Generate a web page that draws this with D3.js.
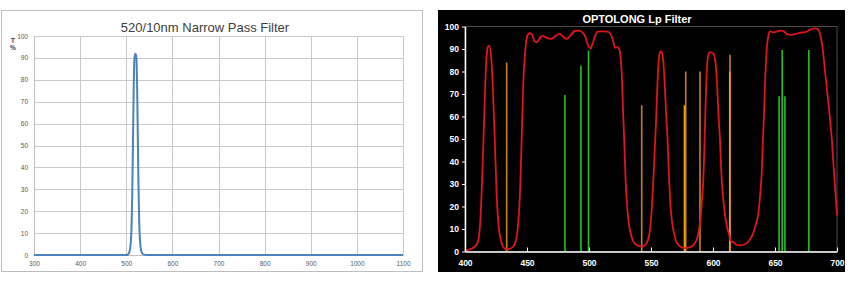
<!DOCTYPE html>
<html>
<head>
<meta charset="utf-8">
<script src="https://cdn.jsdelivr.net/npm/d3@7"></script>
<style>
  html, body { margin: 0; padding: 0; background: #ffffff; }
  svg { display: block; }
</style>
</head>
<body>
<svg id="chart" width="853" height="288"></svg>
<script>
// ---------- Left chart data: 520/10nm Narrow Pass Filter ----------
const leftTitle = "520/10nm Narrow Pass Filter";
const leftXTicks = [300, 400, 500, 600, 700, 800, 900, 1000, 1100];
const leftYTicks = [0, 10, 20, 30, 40, 50, 60, 70, 80, 90, 100];
const leftWavelength = [300, 500, 504, 507, 509.5, 511.5, 513, 514.5, 516, 517.5, 519, 520.5, 522, 523.5, 525, 526.5, 528, 530, 533, 537, 545, 1100];
const leftTransmission = [0, 0, 0.3, 1.5, 5, 13, 28, 50, 74, 89, 91.8, 91.8, 90, 78, 55, 32, 16, 6, 1.5, 0.3, 0, 0];

// ---------- Right chart data: OPTOLONG Lp Filter ----------
const rightTitle = "OPTOLONG Lp Filter";
const rightXTicks = [400, 450, 500, 550, 600, 650, 700];
const rightYTicks = [0, 10, 20, 30, 40, 50, 60, 70, 80, 90, 100];
const lpWavelength = [400,404,408,410.5,412.5,414,415.5,417,418.5,419.5,421,422.5,424,425.5,427,428.5,430,431.5,433.5,436,439,441.5,443,444.5,445.7,447,448.4,450,452,454,456,458,460.5,463,466,469.5,473,476.5,479,482,485,488.5,492,494.5,497,499,501,503,505,507,511,515,517.5,519.5,521,523,524.5,525.5,526.5,527.5,528.5,529.5,530.5,532,533,535,537,540,542.5,545,546.5,548,549.2,550.5,551.9,553,554,555,556,557,558,559,560,561,562.3,563.5,564.5,565.5,567,568,570,572,575,577.5,580,582.8,585,586.8,588.3,589.5,591,592.2,593,594,595,596.2,597.6,600.3,601.5,602.4,603.5,604.5,605.6,606.5,607.5,608.5,610,611.5,613,614,614.5,616.4,619,621.8,624.5,627.2,630,632.5,634.5,636.6,638,639.3,640.3,641.2,642,643,644.5,646,648,650,653,655.4,657.5,660,663,666,670.2,674,676,678,680,682.3,684,685.5,687,688.5,690,691.5,693.1,694.5,695.8,697,698.5,700];
const lpTransmission = [0.3,1,2.2,4.5,15,35,60,83,91,91.5,87,72,50,25,12,6,3,1.5,1,1.2,2.2,6,13,28,50,75,88,95.5,97,96.5,93.5,93,95,95.8,95,94.5,95.8,96.8,95.5,94.5,96,98,98.2,97.5,95.5,92,90.2,92.5,96,97.7,97.8,97.7,96.5,93.5,90.5,90.8,89.8,86,78,62,48,32,22,13,9.5,5.5,3.5,2.5,2.2,2.8,3.8,6,9.6,18,32,45,57,72,83,88,89,88,84,75,60,48,33,22,13,9.6,5,3,1.8,1.5,1.7,2.2,3.5,5.2,8.5,12.6,22,32,45,65,80,87.5,88.6,88,86,82,72,60,50,38,28,22,15,10.5,7.5,5,4.6,4.2,3,2.7,3,3.7,5.5,8.2,12,17,25,35,50,62,75,87,95.5,97.8,97.5,97.5,98,98.2,97.7,96.5,96.3,96.6,97.2,97.5,97.8,98.5,99,99.2,99,98,95,90,82,74,66,58,50,40,28,16];

// Emission lines: wavelength, height (%), and kind
const lineWavelength = [433.6, 480.6, 493.5, 499.6, 542.5, 578, 577, 589.5, 613.7, 613.5, 653.3, 655.8, 658, 677.3];
const lineHeight     = [84,    69.6,  82.7,  89.3,  65,    80,  65,  80,    87.5,  80,    69,    89.6,  69,  89.6];
const lineKind       = ["orange","green","green","green","orange","orange","amber","orange","orange","amber","green","green","green","green"];

const svg = d3.select("#chart");

// ================= LEFT CHART =================
(function () {
  const g = svg.append("g");
  g.append("rect").attr("x", 1.5).attr("y", 10.5).attr("width", 421).attr("height", 261)
    .attr("fill", "#ffffff").attr("stroke", "#bfbfbf").attr("stroke-width", 1);

  const x = d3.scaleLinear().domain([300, 1100]).range([34, 403]);
  const y = d3.scaleLinear().domain([0, 100]).range([255, 36]);

  g.append("g").selectAll("line.v").data(leftXTicks).join("line")
    .attr("x1", d => Math.round(x(d)) + 0.5).attr("x2", d => Math.round(x(d)) + 0.5)
    .attr("y1", y(100)).attr("y2", y(0))
    .attr("stroke", "#c9c9c9").attr("stroke-width", 1);
  g.append("g").selectAll("line.h").data(leftYTicks).join("line")
    .attr("x1", x(300)).attr("x2", x(1100))
    .attr("y1", d => Math.round(y(d)) + 0.5).attr("y2", d => Math.round(y(d)) + 0.5)
    .attr("stroke", "#c9c9c9").attr("stroke-width", 1);

  const xAxis = d3.axisBottom(x).tickValues(leftXTicks).tickFormat(d3.format("d")).tickSize(0).tickPadding(6);
  const xg = g.append("g").attr("transform", `translate(0,${y(0)})`).call(xAxis);
  xg.select(".domain").attr("stroke", "#bfbfbf");
  xg.selectAll("text").attr("font-family", "Arial, Liberation Sans, sans-serif")
    .attr("font-size", 6.5).attr("fill", "#595959");

  const yAxis = d3.axisLeft(y).tickValues(leftYTicks).tickFormat(d3.format("d")).tickSize(0).tickPadding(6);
  const yg = g.append("g").attr("transform", `translate(${x(300)},0)`).call(yAxis);
  yg.select(".domain").attr("stroke", "#bfbfbf");
  yg.selectAll("text").attr("font-family", "Arial, Liberation Sans, sans-serif")
    .attr("font-size", 6.5).attr("fill", "#595959");

  g.append("text").attr("x", 13).attr("y", 43).attr("text-anchor", "middle")
    .attr("font-family", "Arial, Liberation Sans, sans-serif").attr("font-size", 7).attr("font-weight", "bold")
    .attr("fill", "#404040").text("T");
  g.append("text").attr("x", 13).attr("y", 50).attr("text-anchor", "middle")
    .attr("font-family", "Arial, Liberation Sans, sans-serif").attr("font-size", 6.5).attr("font-weight", "bold")
    .attr("fill", "#404040").text("%");

  g.append("text").attr("x", 205).attr("y", 32).attr("text-anchor", "middle")
    .attr("font-family", "Arial, Liberation Sans, sans-serif").attr("font-size", 13)
    .attr("fill", "#404040").text(leftTitle);

  const pts = leftWavelength.map((w, i) => [w, leftTransmission[i]]);
  const line = d3.line().x(d => x(d[0])).y(d => y(d[1])).curve(d3.curveMonotoneX);
  g.append("path").datum(pts).attr("d", line)
    .attr("fill", "none").attr("stroke", "#4f81bd").attr("stroke-width", 2);
})();

// ================= RIGHT CHART =================
(function () {
  const g = svg.append("g");
  g.append("rect").attr("x", 438).attr("y", 10).attr("width", 407).attr("height", 262).attr("fill", "#000000");

  const x = d3.scaleLinear().domain([400, 700]).range([465, 837]);
  const y = d3.scaleLinear().domain([0, 100]).range([251.5, 26.5]);

  g.append("rect").attr("x", x(400)).attr("y", y(100)).attr("width", x(700) - x(400)).attr("height", y(0) - y(100))
    .attr("fill", "none").attr("stroke", "#4a4a4a").attr("stroke-width", 1);

  g.append("text").attr("x", 637).attr("y", 23).attr("text-anchor", "middle")
    .attr("font-family", "Arial, Liberation Sans, sans-serif").attr("font-size", 11).attr("font-weight", "bold")
    .attr("fill", "#ffffff").text(rightTitle);

  const colorOf = { orange: "#c8801c", amber: "#f2a400", green: "#22c322" };
  g.append("g").selectAll("line").data(lineWavelength.map((w, i) => ({ w, h: lineHeight[i], k: lineKind[i] })))
    .join("line")
    .attr("x1", d => x(d.w)).attr("x2", d => x(d.w))
    .attr("y1", y(0)).attr("y2", d => y(d.h))
    .attr("stroke", d => colorOf[d.k]).attr("stroke-width", 1.6);

  const pts = lpWavelength.map((w, i) => [w, lpTransmission[i]]);
  const line = d3.line().x(d => x(d[0])).y(d => y(d[1])).curve(d3.curveMonotoneX);
  g.append("path").datum(pts).attr("d", line)
    .attr("fill", "none").attr("stroke", "#e0141c").attr("stroke-width", 1.8);

  const xAxis = d3.axisBottom(x).tickValues(rightXTicks).tickSizeInner(-4).tickSizeOuter(0).tickPadding(8);
  const xg = g.append("g").attr("transform", `translate(0,${y(0)})`).call(xAxis);
  xg.select(".domain").attr("stroke", "#ffffff").attr("stroke-width", 1.5);
  xg.selectAll(".tick line").attr("stroke", "#ffffff").attr("stroke-width", 1);
  xg.selectAll("text").attr("font-family", "Arial, Liberation Sans, sans-serif").attr("font-size", 8.5)
    .attr("font-weight", "bold").attr("fill", "#ffffff");

  const yAxis = d3.axisLeft(y).tickValues(rightYTicks).tickSizeInner(3).tickSizeOuter(0).tickPadding(3);
  const yg = g.append("g").attr("transform", `translate(${x(400)},0)`).call(yAxis);
  yg.select(".domain").attr("stroke", "#ffffff").attr("stroke-width", 1.5);
  yg.selectAll(".tick line").attr("stroke", "#ffffff").attr("stroke-width", 1);
  yg.selectAll("text").attr("font-family", "Arial, Liberation Sans, sans-serif").attr("font-size", 8.5)
    .attr("font-weight", "bold").attr("fill", "#ffffff");
})();
</script>
</body>
</html>
